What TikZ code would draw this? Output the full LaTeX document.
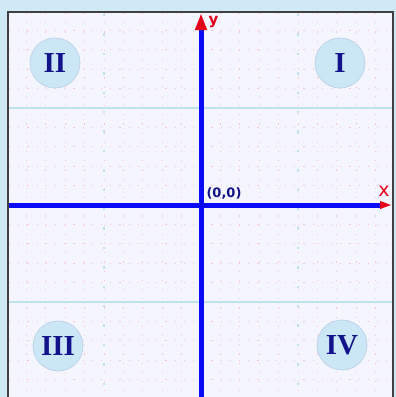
\documentclass[tikz,border=0pt]{standalone}
\usepackage{fontspec}
\newfontfamily\dejavu{DejaVu Sans}
\newfontfamily\numfont{Liberation Serif}
\usetikzlibrary{arrows.meta}
\definecolor{frameblue}{HTML}{CFE9F7}
\definecolor{paper}{HTML}{F5F5FF}
\definecolor{gridpink}{HTML}{F6C4D2}
\definecolor{majorblue}{HTML}{BDE2F2}
\definecolor{axisblue}{HTML}{0A0AF5}
\definecolor{arrowred}{HTML}{E5001A}
\definecolor{navy}{HTML}{12128A}
\definecolor{discfill}{HTML}{CBE7F5}
\definecolor{discedge}{HTML}{BFD3EA}
\begin{document}
\begin{tikzpicture}[x=1pt,y=-1pt,
  quad/.style={circle,minimum size=50pt,inner sep=0pt,fill=discfill,draw=discedge,line width=0.8pt,
    font=\numfont\bfseries\fontsize{29}{29}\selectfont,text=navy},
  minorgrid/.style={gridpink,line width=1pt,dash pattern=on 1.2pt off 8pt},
  majorh/.style={majorblue,line width=1.2pt},
  majorv/.style={majorblue,line width=2.4pt,dash pattern=on 2.4pt off 17pt},
  axisline/.style={axisblue,line width=5pt}]
\fill[frameblue] (0,0) rectangle (396,397);
\useasboundingbox (0,0) rectangle (396,397);
\fill[paper] (8,12) rectangle (393,397);
% minor grid
\foreach \k in {-10,...,-1,1,2,...,9} {
  \draw[minorgrid] ({201+19.4*\k},13) -- ({201+19.4*\k},397);
}
\foreach \k in {-9,...,-1,1,2,...,9} {
  \draw[minorgrid] (9,{205+19.4*\k}) -- (392,{205+19.4*\k});
}
% major grid
\draw[majorh] (9,108) -- (392,108);
\draw[majorh] (9,302) -- (392,302);
\draw[majorv] (104,14) -- (104,397);
\draw[majorv] (298,14) -- (298,397);
% frame
\draw[black!75,line width=1.8pt] (8,397) -- (8,12) -- (393,12) -- (393,397);
% axes
\coordinate (ybot) at (201,397);
\coordinate (ytop) at (201,13);
\coordinate (xleft) at (9,205);
\coordinate (xright) at (392,205);
\draw[axisline,-{Triangle[length=17pt,width=11pt,color=arrowred]}] (ybot) -- (ytop);
\draw[axisline,-{Triangle[length=12pt,width=7pt,color=arrowred]}] (xleft) -- (xright);
% labels
\node[text=arrowred,font=\dejavu\bfseries\fontsize{15}{15}\selectfont,inner sep=0pt] (ylab) at (213.5,22) {y};
\node[text=arrowred,font=\dejavu\fontsize{19}{19}\selectfont,inner sep=0pt] (xlab) at (384,191.5) {x};
\node[text=navy,font=\dejavu\bfseries\fontsize{13}{13}\selectfont,inner sep=0pt] (origin) at (224,193) {(0,0)};
% quadrants
\node[quad] (q1) at (340,63) {I};
\node[quad] (q2) at (55,63) {II};
\node[quad] (q3) at (58,346) {III};
\node[quad] (q4) at (342,345) {IV};
\end{tikzpicture}
\end{document}
